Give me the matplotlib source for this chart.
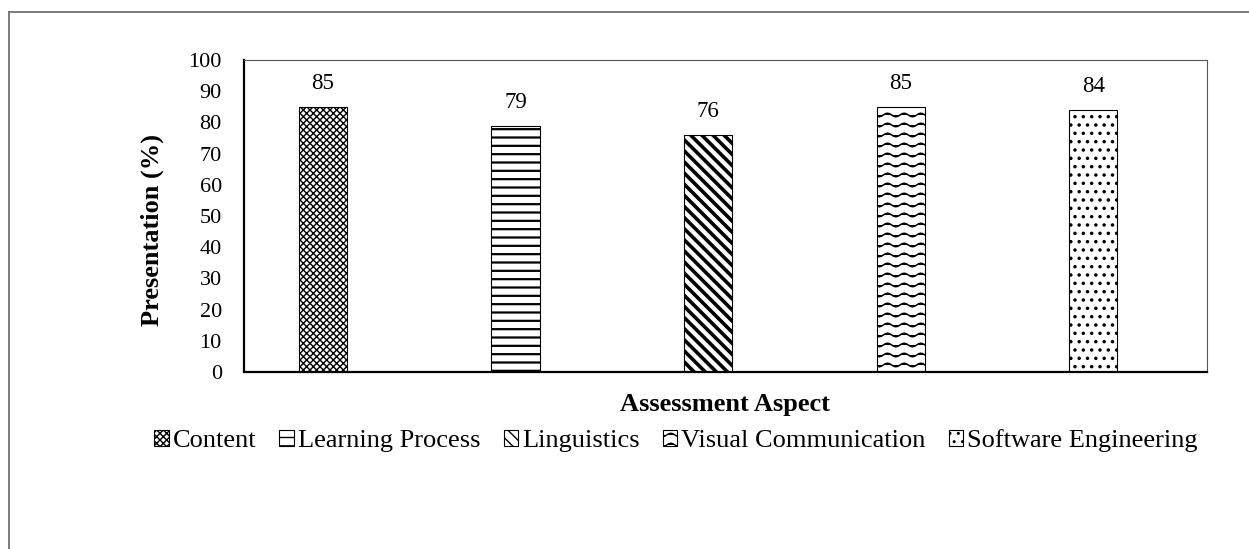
import matplotlib
matplotlib.use("Agg")
import numpy as np
import matplotlib.pyplot as plt
import matplotlib.hatch as mhatch
from matplotlib.path import Path
from matplotlib.lines import Line2D


class WaveHatch(mhatch.HatchPatternBase):
    """Rows of small waves, selected with '~' in the hatch string."""
    K = 49

    def __init__(self, hatch, density):
        self.num_lines = int(hatch.count('~') * density * 1.75)
        self.num_vertices = self.num_lines * self.K

    def set_vertices_and_codes(self, vertices, codes):
        steps, stepsize = np.linspace(0.0, 1.0, self.num_lines, False, retstep=True)
        steps += stepsize / 2.
        xs = np.linspace(0.0, 1.0, self.K)
        for i, s in enumerate(steps):
            sl = slice(i * self.K, (i + 1) * self.K)
            vertices[sl, 0] = xs
            vertices[sl, 1] = s + 0.018 * np.sin(2 * np.pi * 6 * xs)
            codes[sl] = Path.LINETO
            codes[i * self.K] = Path.MOVETO


mhatch._hatch_types.append(WaveHatch)

categories = ["Content", "Learning Process", "Linguistics", "Visual Communication", "Software Engineering"]
values = [85, 79, 76, 85, 84]
yticks = [0, 10, 20, 30, 40, 50, 60, 70, 80, 90, 100]
hatches = ["xxxxx", "--", "\\\\\\", "~", ".."]
hatch_lw = [1.0, 1.6, 2.6, 1.1, 1.3]

plt.rcParams['font.family'] = ['Liberation Serif', 'DejaVu Serif']

fig = plt.figure(figsize=(12.49, 5.49), dpi=100)
W, H = 1249, 549
ax = fig.add_axes([244 / W, 1 - 372 / H, (1207 - 244) / W, (372 - 60) / H])

xs = list(range(len(categories)))
bars = []
for x, v, h, lw, c in zip(xs, values, hatches, hatch_lw, categories):
    with plt.rc_context({'hatch.linewidth': lw}):
        b = ax.bar(x, v, width=0.25, color="white", edgecolor="black", hatch=h,
                   linewidth=0.8, label=c)
    for p in b.patches:
        if hasattr(p, "set_hatch_linewidth"):
            p.set_hatch_linewidth(lw)
    bars.append(b)
    ax.annotate(str(v), (x, v), xytext=(0, 9), textcoords="offset points",
                ha="center", va="bottom", fontsize=16.5)

ax.set_xlim(-0.41, 4.59)
ax.set_ylim(0, 100)
ax.set_yticks(yticks)
ax.set_xticks([])
ax.tick_params(axis="y", length=0, pad=16, labelsize=16)
for s in ["top", "right"]:
    ax.spines[s].set_color("#555555")
    ax.spines[s].set_linewidth(0.8)
for s in ["left", "bottom"]:
    ax.spines[s].set_color("black")
    ax.spines[s].set_linewidth(1.6)

fig.text(152 / W, 1 - 230 / H, "Presentation (%)", ha="center", va="center",
         rotation=90, fontsize=19, fontweight="bold")
fig.text(725 / W, 1 - 404 / H, "Assessment Aspect", ha="center", va="center",
         fontsize=19, fontweight="bold")

leg = fig.legend(handles=bars, labels=categories, loc="center",
                 bbox_to_anchor=(676 / W, 1 - 441 / H), ncol=5, frameon=False,
                 fontsize=19, handlelength=0.55, handleheight=0.55, handletextpad=0.15,
                 columnspacing=0.88)

# outer border
fig.add_artist(Line2D([9 / W, 9 / W], [0, 1 - 12 / H], color="#666666", lw=1.2,
                      transform=fig.transFigure))
fig.add_artist(Line2D([9 / W, 1], [1 - 12 / H, 1 - 12 / H], color="#666666", lw=1.2,
                      transform=fig.transFigure))

fig.savefig("out.png", dpi=100)
